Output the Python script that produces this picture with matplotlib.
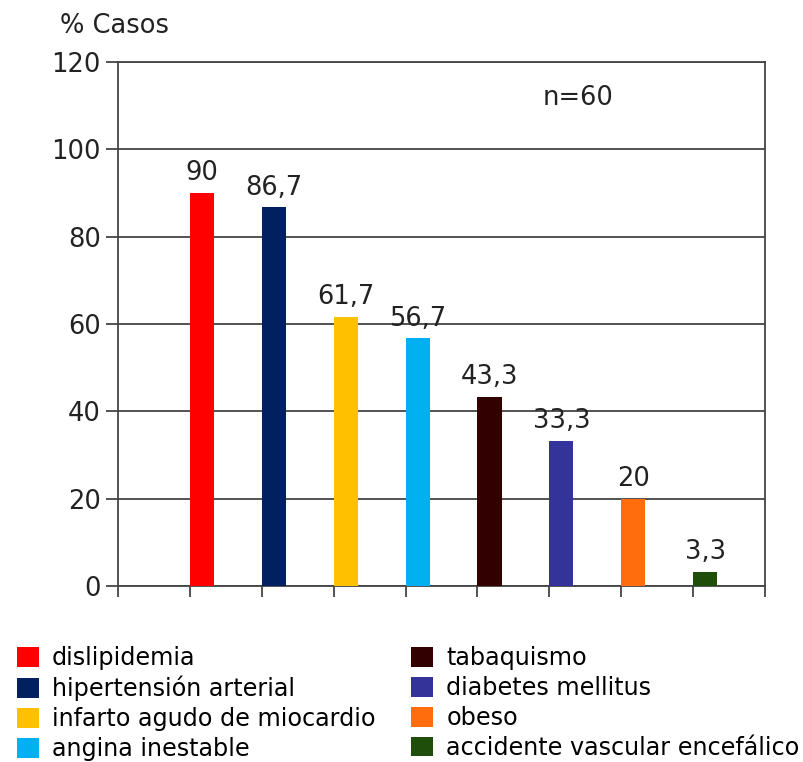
import numpy as np
import matplotlib.pyplot as plt
from matplotlib.patches import Patch

# data
categorias = ["dislipidemia", "hipertensión arterial", "infarto agudo de miocardio",
              "angina inestable", "tabaquismo", "diabetes mellitus", "obeso",
              "accidente vascular encefálico"]
porcentajes = [90, 86.7, 61.7, 56.7, 43.3, 33.3, 20, 3.3]
etiquetas = ["90", "86,7", "61,7", "56,7", "43,3", "33,3", "20", "3,3"]
colores = ["#ff0000", "#002060", "#ffc000", "#00b0f0", "#330000", "#333399", "#ff6d0d", "#1f4e0a"]
y_ticks = [0, 20, 40, 60, 80, 100, 120]

plt.rcParams['font.family'] = ['DejaVu Sans']

fig = plt.figure(figsize=(8.04, 7.62), dpi=100)
ax = fig.add_axes([0.1468, 0.231, 0.8047, 0.6877])

pos = np.arange(1, len(porcentajes) + 1)
ax.bar(pos, porcentajes, width=0.335, align='edge', color=colores, zorder=3)

for p, v, t in zip(pos, porcentajes, etiquetas):
    ax.text(p + 0.17, v + 1.5, t, ha='center', va='bottom', fontsize=18.5, color='#222222')

ax.set_xlim(0, 9)
ax.set_ylim(0, 120)
ax.set_yticks(y_ticks)
ax.set_xticks(np.arange(0, 10))
ax.set_xticklabels([])
ax.yaxis.grid(True, color='#444444', linewidth=1.3, zorder=0)
ax.tick_params(axis='y', labelsize=18.5, length=9, width=1.3, color='#444444', labelcolor='#222222')
ax.tick_params(axis='x', length=8, width=1.3, color='#444444')
for s in ax.spines.values():
    s.set_color('#444444')
    s.set_linewidth(1.3)

fig.text(0.075, 0.966, "% Casos", fontsize=18.5, color='#222222', va='center')
ax.text(0.711, 0.931, "n=60", transform=ax.transAxes, fontsize=18.5, color='#222222', va='center', ha='center')

handles = [Patch(facecolor=c) for c in colores]
fig.legend(handles, categorias, ncol=2, loc='upper left', bbox_to_anchor=(0.0, 0.174),
           frameon=False, fontsize=17.2, handlelength=0.92, handleheight=0.9,
           handletextpad=0.55, labelspacing=0.245, columnspacing=1.5, borderaxespad=0.3)

fig.savefig("out.png", dpi=100)
